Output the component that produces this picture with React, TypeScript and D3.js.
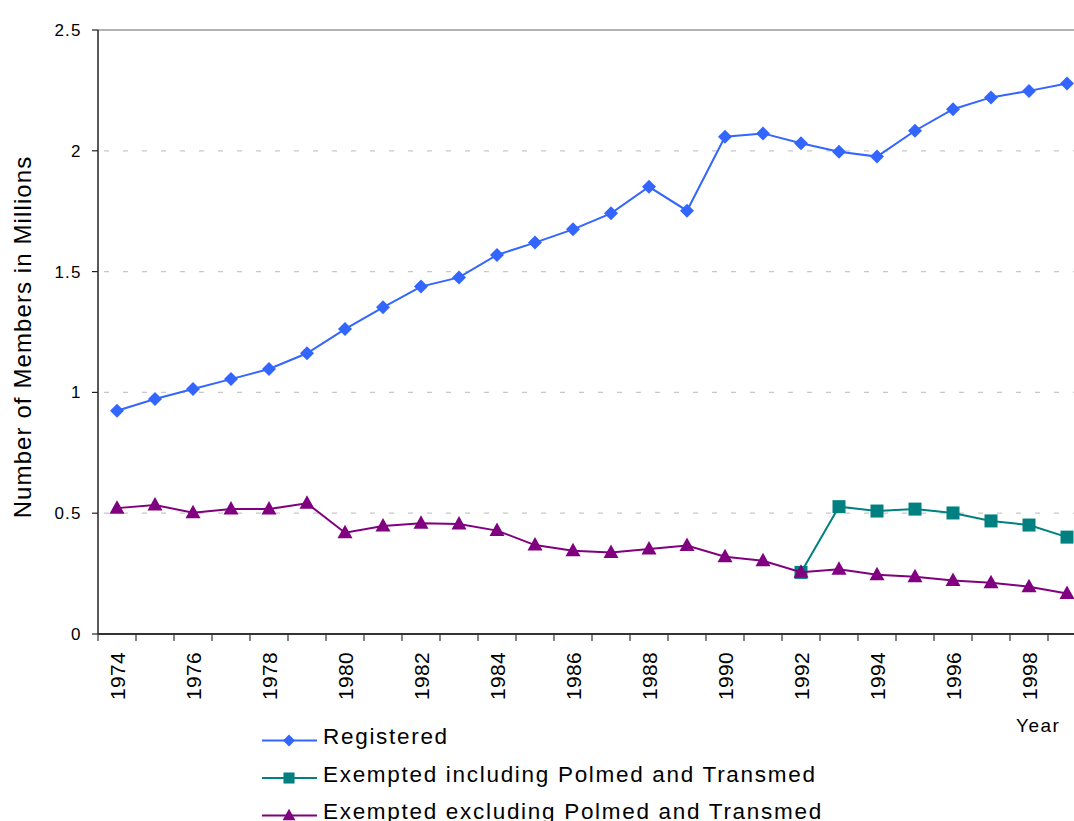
import * as d3 from "d3";

const years = [
  "1974", "1975", "1976", "1977", "1978", "1979", "1980", "1981", "1982",
  "1983", "1984", "1985", "1986", "1987", "1988", "1989", "1990", "1991",
  "1992", "1993", "1994", "1995", "1996", "1997", "1998", "1999",
];

const registered = [
  0.924, 0.973, 1.014, 1.055, 1.097, 1.162, 1.262, 1.352, 1.438, 1.476,
  1.569, 1.62, 1.675, 1.741, 1.851, 1.752, 2.058, 2.072, 2.031, 1.996,
  1.976, 2.083, 2.172, 2.221, 2.248, 2.279,
];

// only reported from 1992 onward
const exemptedIncl: (number | null)[] = [
  null, null, null, null, null, null, null, null, null, null, null, null,
  null, null, null, null, null, null, 0.255, 0.527, 0.509, 0.517, 0.501,
  0.468, 0.451, 0.401,
];

const exemptedExcl = [
  0.521, 0.534, 0.502, 0.517, 0.517, 0.541, 0.419, 0.447, 0.458, 0.455,
  0.428, 0.368, 0.345, 0.337, 0.352, 0.366, 0.32, 0.303, 0.256, 0.268,
  0.245, 0.237, 0.221, 0.212, 0.196, 0.168,
];

const yTicks = [0, 0.5, 1, 1.5, 2, 2.5];
const yTickLabels = ["0", "0.5", "1", "1.5", "2", "2.5"];

const seriesNames = [
  "Registered",
  "Exempted including Polmed and Transmed",
  "Exempted excluding Polmed and Transmed",
];
const seriesColors = ["#3366ff", "#008080", "#800080"];
const seriesShapes = ["diamond", "square", "triangle"];

const W = 1074;
const H = 821;
const left = 98;
const top = 30;
const bottom = 634;
const band = 38;
const font = "'Liberation Sans', Arial, sans-serif";

function Marker({ shape, x, y, color, s = 1 }: { shape: string; x: number; y: number; color: string; s?: number }) {
  if (shape === "diamond") {
    const r = 7 * s;
    return <path d={`M${x},${y - r}L${x + r},${y}L${x},${y + r}L${x - r},${y}Z`} fill={color} />;
  }
  if (shape === "square") {
    const h = 6.5 * s;
    return <rect x={x - h} y={y - h} width={2 * h} height={2 * h} fill={color} />;
  }
  return (
    <path
      d={`M${x},${y - 8 * s}L${x + 7.5 * s},${y + 5.5 * s}L${x - 7.5 * s},${y + 5.5 * s}Z`}
      fill={color}
    />
  );
}

export default function App() {
  const x = d3
    .scaleBand<string>()
    .domain(years)
    .range([left, left + band * years.length]);
  const y = d3.scaleLinear().domain([0, 2.5]).range([bottom, top]);
  const cx = (yr: string) => (x(yr) as number) + x.bandwidth() / 2;

  const series = [registered, exemptedIncl, exemptedExcl];
  const line = d3
    .line<number | null>()
    .defined((d) => d != null)
    .x((_, i) => cx(years[i]))
    .y((d) => y(d as number));

  return (
    <div style={{ position: "absolute", left: 0, top: 0 }}>
      <svg width={W} height={H} style={{ display: "block", background: "#fff" }} fontFamily={font}>
        {/* gridlines */}
        {yTicks.slice(1, -1).map((t) => (
          <line key={t} x1={left} x2={W} y1={y(t)} y2={y(t)} stroke="#c8c8c8" strokeWidth={1.2} strokeDasharray="5,14" strokeDashoffset={-6} />
        ))}
        {/* top border */}
        <line x1={left} x2={W} y1={top} y2={top} stroke="#9a9a9a" strokeWidth={1.5} />

        {/* y axis */}
        <line x1={left} x2={left} y1={top} y2={bottom} stroke="#222" strokeWidth={1.5} />
        {yTicks.map((t, i) => (
          <g key={t}>
            <line x1={left - 6} x2={left} y1={y(t)} y2={y(t)} stroke="#222" strokeWidth={1.2} />
            <text x={81.5} y={y(t) + 6} textAnchor="end" fontSize={17} letterSpacing={1.1} fill="#000">
              {yTickLabels[i]}
            </text>
          </g>
        ))}
        <text transform="translate(31,337) rotate(-90)" textAnchor="middle" fontSize={24} letterSpacing={1.1} fill="#000">
          Number of Members in Millions
        </text>

        {/* x axis */}
        <line x1={left} x2={W} y1={bottom} y2={bottom} stroke="#333" strokeWidth={2} />
        {years.map((yr) => (
          <line key={yr} x1={x(yr) as number} x2={x(yr) as number} y1={bottom} y2={bottom + 7} stroke="#333" strokeWidth={1.2} />
        ))}
        {years
          .filter((_, i) => i % 2 === 0)
          .map((yr) => (
            <text key={yr} transform={`translate(${cx(yr) + 7.5},${652}) rotate(-90)`} textAnchor="end" fontSize={21} letterSpacing={0.3} fill="#000">
              {yr}
            </text>
          ))}
        <text x={1016} y={732} fontSize={19} letterSpacing={1.5} fill="#000">
          Year
        </text>

        {/* series */}
        {series.map((s, k) => (
          <g key={k}>
            <path d={line(s) as string} fill="none" stroke={seriesColors[k]} strokeWidth={2} />
            {s.map((v, i) =>
              v == null ? null : (
                <Marker key={i} shape={seriesShapes[k]} x={cx(years[i])} y={y(v)} color={seriesColors[k]} />
              )
            )}
          </g>
        ))}

        {/* legend */}
        {seriesNames.map((n, k) => {
          const ly = 740.5 + k * 37.5;
          return (
            <g key={n}>
              <line x1={262} x2={317} y1={ly} y2={ly} stroke={seriesColors[k]} strokeWidth={2} />
              <Marker shape={seriesShapes[k]} x={289} y={ly} color={seriesColors[k]} s={0.85} />
              <text x={323} y={ly + 3.5} fontSize={22.5} letterSpacing={1.7} fill="#000">
                {n}
              </text>
            </g>
          );
        })}
      </svg>
    </div>
  );
}
